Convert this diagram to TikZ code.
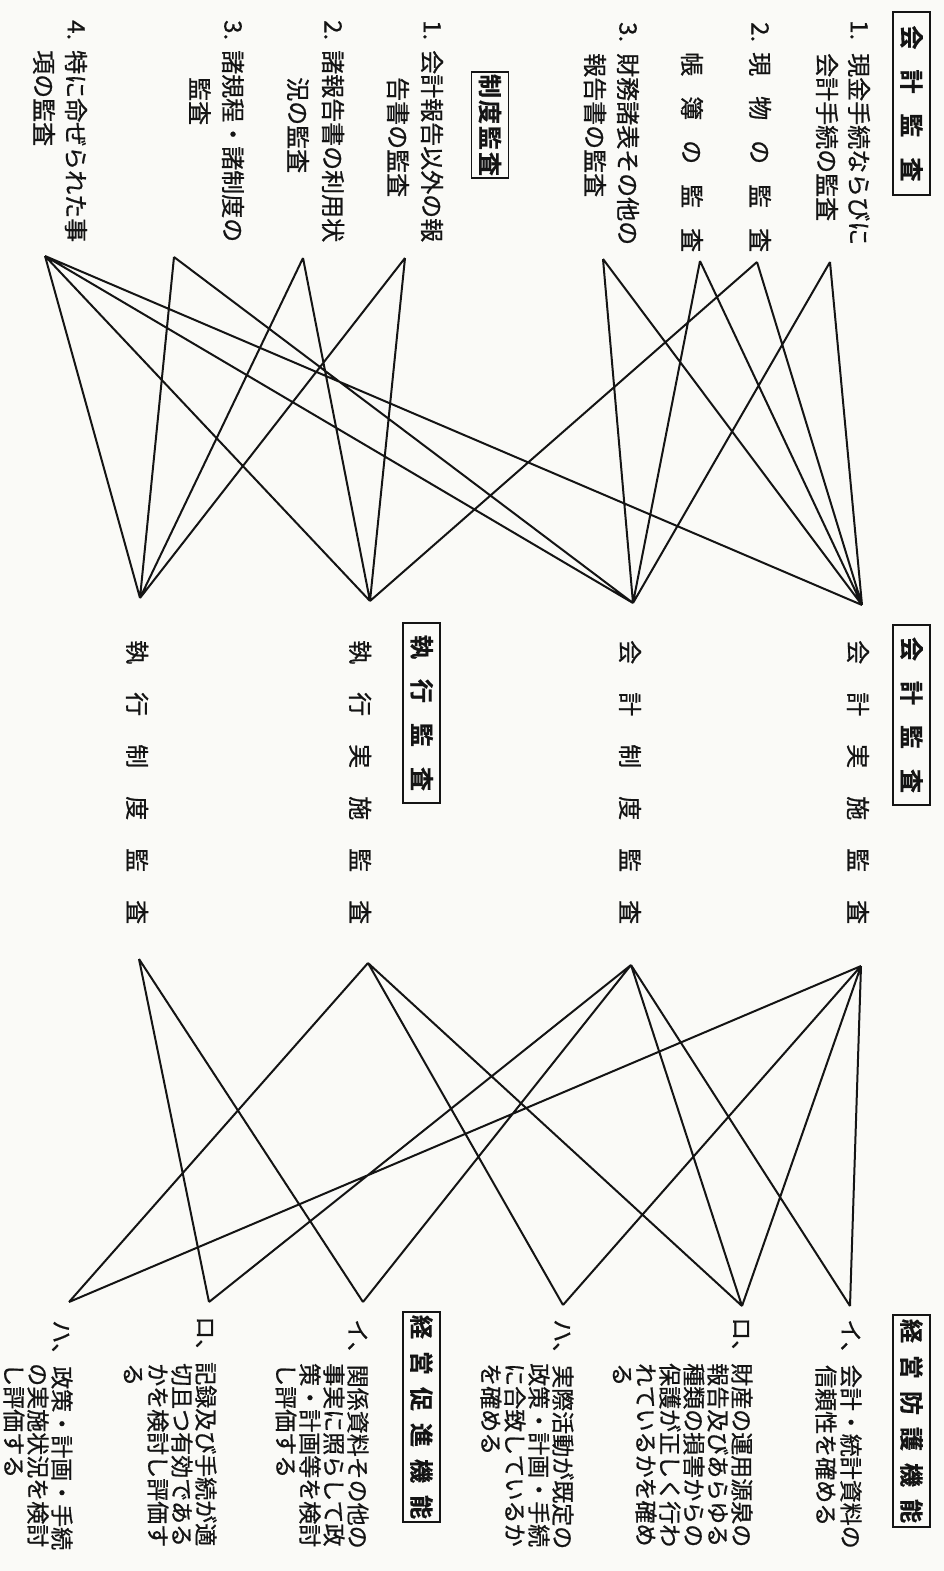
\documentclass[tikz,border=0pt]{standalone}
\usepackage{fontspec}
\newfontfamily\jp[FakeBold=0.8]{Noto Sans CJK JP}
\newfontfamily\jpb[FakeBold=0.6]{Noto Sans CJK JP Bold}
\definecolor{paper}{RGB}{250,250,247}
\definecolor{ink}{RGB}{20,20,20}
\begin{document}
\begin{tikzpicture}[x=1pt,y=-1pt,
  every node/.style={inner sep=0pt,text=ink},
  col/.style={rotate=-90,anchor=west,font=\jp\fontsize{24}{24}\selectfont},
  sm/.style={rotate=-90,anchor=west,font=\jp\fontsize{23}{23}\selectfont},
  boxed/.style={draw=ink,line width=1.6pt,rotate=-90,minimum height=37pt,font=\jpb\fontsize{24}{24}\selectfont},
  link/.style={draw=ink,line width=2pt}]
\fill[paper] (0,0) rectangle (944,1571);
\useasboundingbox (0,0) rectangle (944,1571);

% ---------- upper group ----------
\node[boxed,minimum width=183pt] (boxA) at (911.5,103.5) {会\hspace{20pt}計\hspace{20pt}監\hspace{20pt}査};
\node[col] (n1) at (859,20) {1.};
\node[col] (a1) at (859,53) {現金手続ならびに};
\node[col] (a1b) at (827,53) {会計手続の監査};
\node[col] (n2) at (760,22) {2.};
\node[col] (a2) at (760,52) {現\hspace{20pt}物\hspace{20pt}の\hspace{20pt}監\hspace{20pt}査};
\node[col] (a2b) at (692,52) {帳\hspace{20pt}簿\hspace{20pt}の\hspace{20pt}監\hspace{20pt}査};
\node[col] (n3) at (628,22) {3.};
\node[col] (a3) at (628,53) {財務諸表その他の};
\node[col] (a3b) at (595,53) {報告書の監査};

\node[boxed,minimum width=106pt] (boxB) at (490,125) {制\hspace{2pt}度\hspace{2pt}監\hspace{2pt}査};
\node[col] (c1n) at (432,20) {1.};
\node[col] (c1) at (432,50) {会計報告以外の報};
\node[col] (c1b) at (398,77) {告書の監査};
\node[col] (c2n) at (333,20) {2.};
\node[col] (c2) at (333,50) {諸報告書の利用状};
\node[col] (c2b) at (298,77) {況の監査};
\node[col] (c3n) at (233,20) {3.};
\node[col] (c3) at (233,50) {諸規程・諸制度の};
\node[col] (c3b) at (200,77) {監査};
\node[col] (c4n) at (76,20) {4.};
\node[col] (c4) at (76,50) {特に命ぜられた事};
\node[col] (c4b) at (44,50) {項の監査};

% ---------- middle group ----------
\node[boxed,minimum width=180pt] (boxC) at (911.5,715) {会\hspace{20pt}計\hspace{20pt}監\hspace{20pt}査};
\node[col] (m4t) at (858,640) {会\hspace{28pt}計\hspace{28pt}実\hspace{28pt}施\hspace{28pt}監\hspace{28pt}査};
\node[col] (m3t) at (630,640) {会\hspace{28pt}計\hspace{28pt}制\hspace{28pt}度\hspace{28pt}監\hspace{28pt}査};
\node[boxed,minimum width=180pt] (boxD) at (421.5,713) {執\hspace{20pt}行\hspace{20pt}監\hspace{20pt}査};
\node[col] (m2t) at (360,640) {執\hspace{28pt}行\hspace{28pt}実\hspace{28pt}施\hspace{28pt}監\hspace{28pt}査};
\node[col] (m1t) at (137,640) {執\hspace{28pt}行\hspace{28pt}制\hspace{28pt}度\hspace{28pt}監\hspace{28pt}査};

% ---------- lower group ----------
\node[boxed,minimum width=212pt] (boxE) at (911.5,1421) {経\hspace{12pt}営\hspace{12pt}防\hspace{12pt}護\hspace{12pt}機\hspace{12pt}能};
\node[sm] (e1) at (851,1319) {イ、会計・統計資料の};
\node[sm] (e1b) at (826,1365) {信頼性を確める};
\node[sm] (e2) at (742,1317) {ロ、財産の運用源泉の};
\node[sm] (e2b) at (718,1363) {報告及びあらゆる};
\node[sm] (e2c) at (694,1363) {種類の損害からの};
\node[sm] (e2d) at (670,1363) {保護が正しく行わ};
\node[sm] (e2e) at (646,1363) {れているかを確め};
\node[sm] (e2f) at (622,1363) {る};
\node[sm] (e3) at (563,1319) {ハ、実際活動が既定の};
\node[sm] (e3b) at (539,1363) {政策・計画・手続};
\node[sm] (e3c) at (515,1363) {に合致しているか};
\node[sm] (e3d) at (491,1363) {を確める};

\node[boxed,minimum width=210pt] (boxF) at (421.5,1417) {経\hspace{12pt}営\hspace{12pt}促\hspace{12pt}進\hspace{12pt}機\hspace{12pt}能};
\node[sm] (p1) at (358,1319) {イ、関係資料その他の};
\node[sm] (p1b) at (334,1363) {事実に照らして政};
\node[sm] (p1c) at (310,1363) {策・計画等を検討};
\node[sm] (p1d) at (286,1363) {し評価する};
\node[sm] (p2) at (206,1316) {ロ、記録及び手続が適};
\node[sm] (p2b) at (182,1363) {切且つ有効である};
\node[sm] (p2c) at (158,1363) {かを検討し評価す};
\node[sm] (p2d) at (133,1363) {る};
\node[sm] (p3) at (62,1320) {ハ、政策・計画・手続};
\node[sm] (p3b) at (38,1363) {の実施状況を検討};
\node[sm] (p3c) at (14,1363) {し評価する};

% ---------- apex points ----------
\coordinate (t1) at (45,256);
\coordinate (t2) at (174,257);
\coordinate (t3) at (303,258);
\coordinate (t4) at (405,258);
\coordinate (t5) at (603,259);
\coordinate (t6) at (700,261);
\coordinate (t7) at (757,262);
\coordinate (t8) at (830,262);
\coordinate (b1) at (140,598);
\coordinate (b2) at (370,601);
\coordinate (b3) at (633,603);
\coordinate (b4) at (862,605);
\coordinate (m1) at (139,959);
\coordinate (m2) at (368,963);
\coordinate (m3) at (631,965);
\coordinate (m4) at (861,966);
\coordinate (r1) at (69,1302);
\coordinate (r2) at (209,1302);
\coordinate (r3) at (363,1302);
\coordinate (r4) at (563,1305);
\coordinate (r5) at (742,1306);
\coordinate (r6) at (850,1306);

% ---------- connectors ----------
\path[link] (t1)--(b1) (t1)--(b2) (t1)--(b3) (t1)--(b4)
  (t2)--(b1) (t2)--(b3)
  (t3)--(b1) (t3)--(b2)
  (t4)--(b1) (t4)--(b2)
  (t5)--(b3) (t5)--(b4)
  (t6)--(b3) (t6)--(b4)
  (t7)--(b2) (t7)--(b4)
  (t8)--(b3) (t8)--(b4);
\path[link] (m1)--(r2) (m1)--(r3)
  (m2)--(r1) (m2)--(r4) (m2)--(r5)
  (m3)--(r2) (m3)--(r3) (m3)--(r5) (m3)--(r6)
  (m4)--(r1) (m4)--(r4) (m4)--(r5) (m4)--(r6);
\end{tikzpicture}
\end{document}
